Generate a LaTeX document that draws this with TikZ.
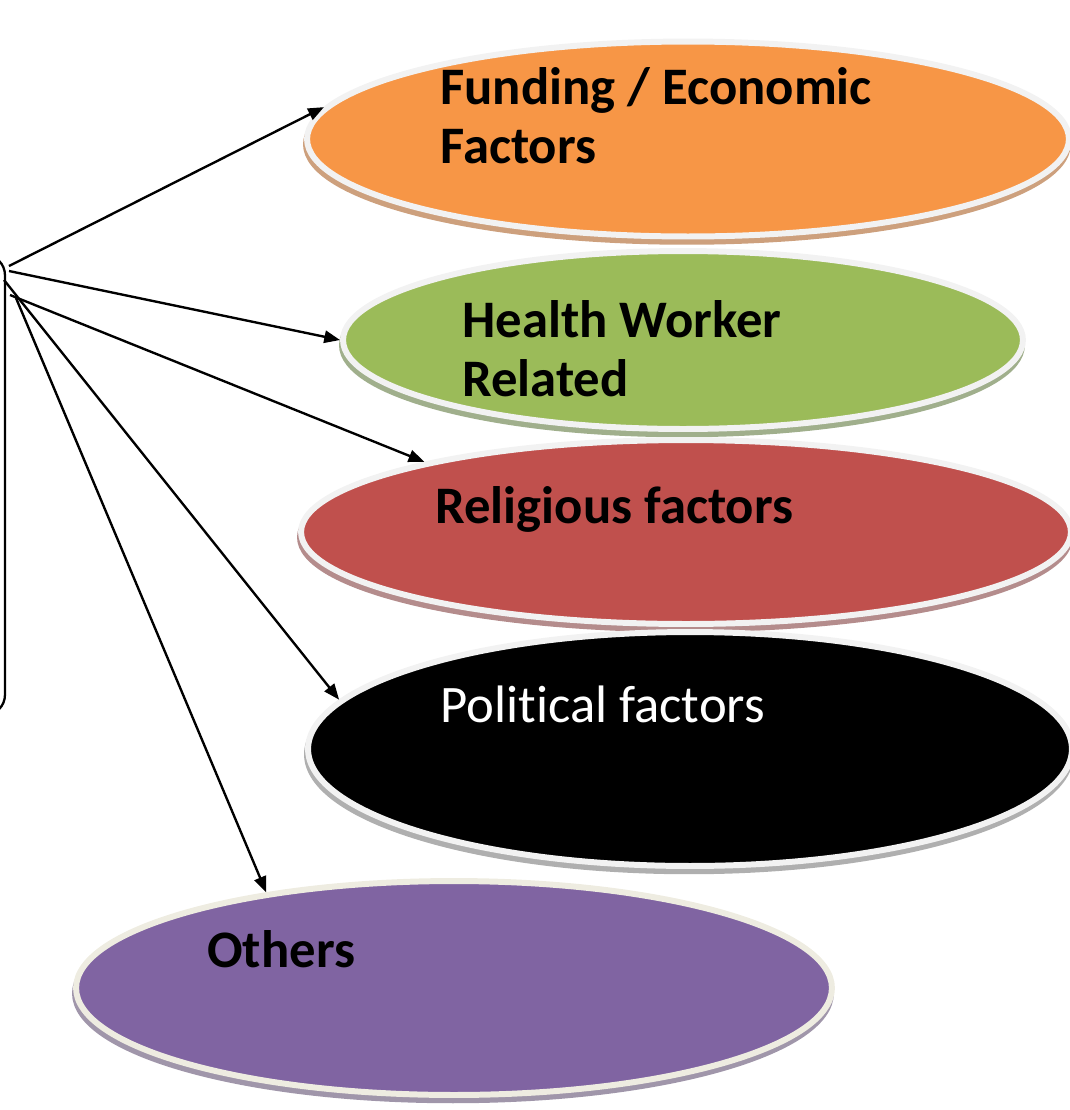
\documentclass[tikz,border=0pt]{standalone}
\usepackage{fontspec}
\setmainfont{Carlito}[Ligatures=NoCommon]
\usepackage{xcolor}
\usetikzlibrary{arrows.meta,shapes.geometric}

\definecolor{fundcol}{HTML}{F79646}
\definecolor{healthcol}{HTML}{9BBB59}
\definecolor{religcol}{HTML}{C0504D}
\definecolor{othercol}{HTML}{8064A2}
\definecolor{rim}{HTML}{F2F2F2}
\definecolor{rimbeige}{HTML}{EEECE1}
% shadow tints
\definecolor{fundsh}{RGB}{205,160,125}
\definecolor{healthsh}{RGB}{160,175,140}
\definecolor{religsh}{RGB}{180,140,140}
\definecolor{politsh}{RGB}{175,175,175}
\definecolor{othersh}{RGB}{160,150,170}

\begin{document}
\begin{tikzpicture}[
    x=0.02cm, y=-0.02cm,
    blob/.style={ellipse, draw=rim, line width=3.4pt, inner sep=0pt},
    shade/.style={preaction={fill=#1, draw=#1,
                  transform canvas={shift={(-0.6pt,-3pt)}}}},
    lbl/.style={font=\fontsize{30}{33.5}\selectfont\bfseries,
                anchor=base west, inner sep=0pt, align=left},
    arr/.style={-{Triangle[length=9pt, width=7pt]}, line width=1.35pt},
]
\useasboundingbox (0,0) rectangle (1070,1110);

% Source box (mostly off the page)
\node[draw, line width=1.3pt, rounded corners=0.4cm,
      minimum width=6.1cm, minimum height=9.2cm] (causes) at (-147.5,485) {};

% Ovals
\node[blob, fill=fundcol, shade=fundsh,
      minimum width=15.24cm, minimum height=3.9cm] (fund) at (688,139) {};
\node[blob, fill=healthcol, shade=healthsh,
      minimum width=13.6cm, minimum height=3.56cm] (health) at (683,340) {};
\node[blob, fill=religcol, shade=religsh,
      minimum width=15.4cm, minimum height=3.68cm] (relig) at (686,532) {};
\node[blob, fill=black, shade=politsh,
      minimum width=15.28cm, minimum height=4.68cm] (polit) at (690,749) {};
\node[blob, draw=rimbeige, fill=othercol, shade=othersh,
      minimum width=15.12cm, minimum height=4.28cm] (other) at (454,988) {};

% Labels (multi-line ones sit on their last baseline)
\node[lbl] (fundtxt)   at (440,163) {Funding / Economic\\Factors};
\node[lbl] (healthtxt) at (462,396) {Health Worker\\Related};
\node[lbl] (religtxt)  at (435,523) {Religious factors};
\node[lbl, font=\fontsize{30}{33.5}\selectfont, text=white] (polittxt) at (440,722) {Political factors};
\node[lbl] (othertxt)  at (207,967) {Others};

% Arrows
\coordinate (s1) at (9,266);
\coordinate (s2) at (9,271);
\coordinate (s3) at (10,295);
\coordinate (s4) at (4,280);
\coordinate (s5) at (16,298);
\draw[arr] (s1) -- (fund.175.5);
\draw[arr] (s2) -- (health.west);
\draw[arr] (s3) -- (relig.165.9);
\draw[arr] (s4) -- (polit.172.8);
\draw[arr] (s5) -- (other.153.9);
\end{tikzpicture}
\end{document}
